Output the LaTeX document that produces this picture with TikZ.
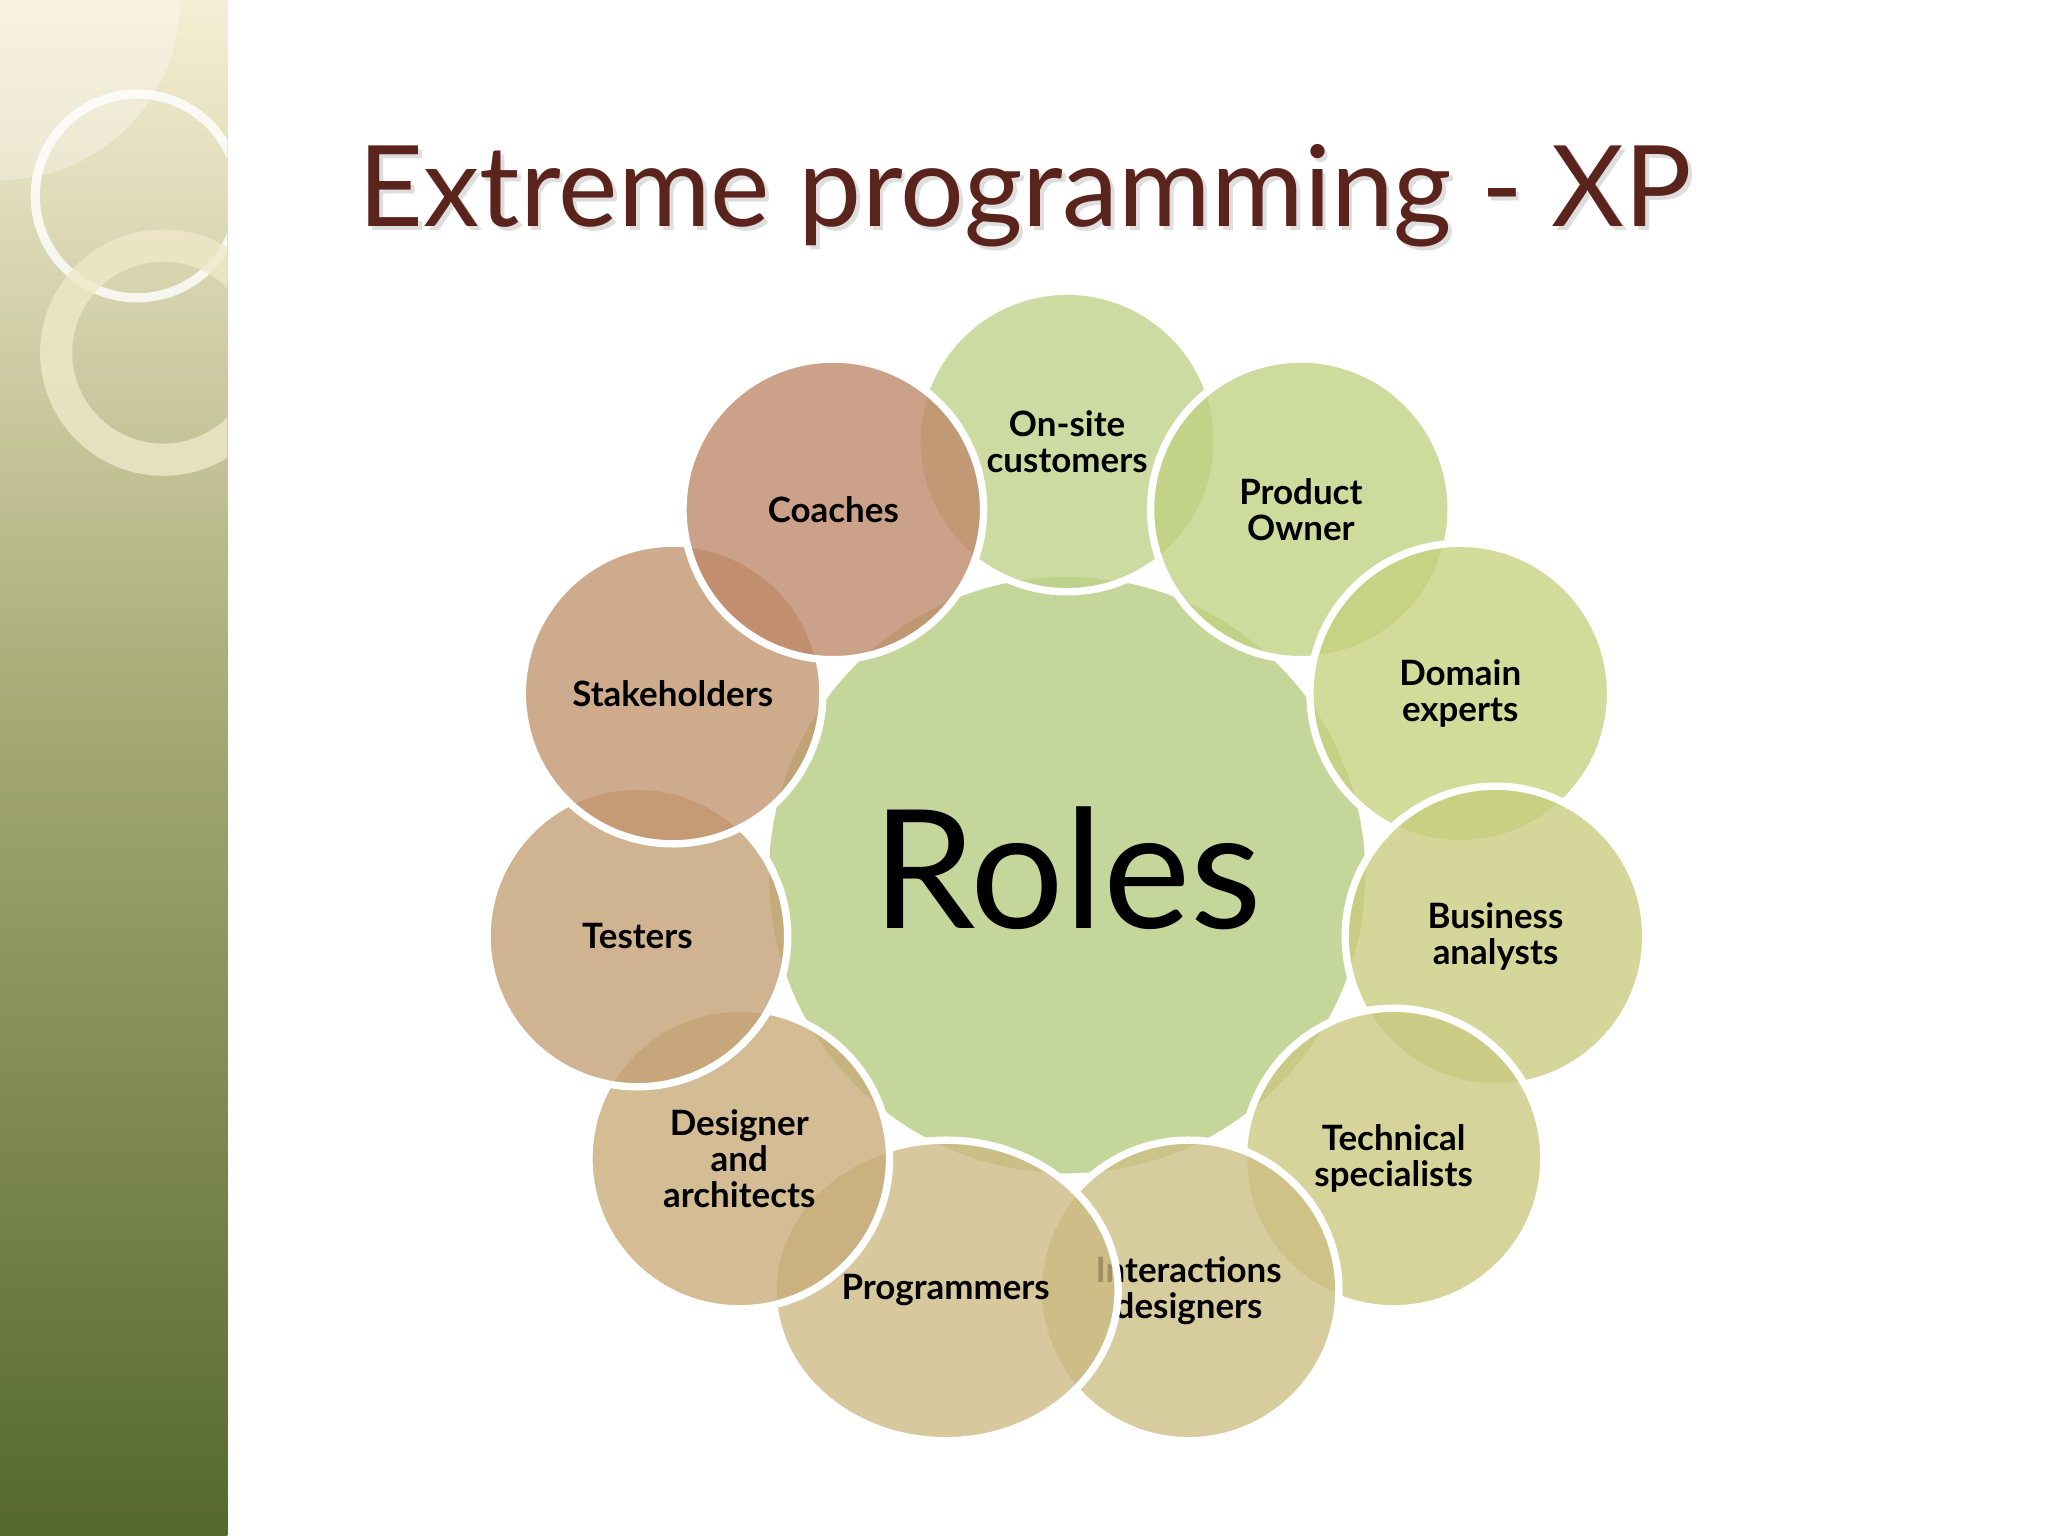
\documentclass[tikz,border=0pt]{standalone}
\usepackage{fontspec}
\setmainfont{Lato}
\usetikzlibrary{shapes.geometric}
\definecolor{sbtop}{RGB}{246,238,212}
\definecolor{sbmid}{RGB}{160,165,110}
\definecolor{sbbot}{RGB}{85,104,45}
\definecolor{ringc}{RGB}{240,232,200}
\definecolor{titlec}{RGB}{90,35,28}
\definecolor{cen}{RGB}{197,214,155}
\definecolor{ca}{RGB}{190,210,135}
\definecolor{cb}{RGB}{192,210,130}
\definecolor{cd}{RGB}{198,210,125}
\definecolor{ce}{RGB}{200,205,125}
\definecolor{cf}{RGB}{203,200,128}
\definecolor{cg}{RGB}{205,190,130}
\definecolor{ch}{RGB}{205,185,130}
\definecolor{ci}{RGB}{200,170,120}
\definecolor{cj}{RGB}{195,160,115}
\definecolor{ck}{RGB}{193,148,110}
\definecolor{cl}{RGB}{190,135,105}
\begin{document}
\begin{tikzpicture}[x=0.01cm,y=-0.01cm,
  role/.style={circle,minimum size=2.3cm,draw=white,line width=1.6pt,fill opacity=0.78,text opacity=1,align=center,font=\fontsize{7.6}{7.8}\selectfont\bfseries},
]
\useasboundingbox (0,0) rectangle (1568,1176);
\fill[white] (0,0) rectangle (1568,1176);
\shade[top color=sbtop,bottom color=sbbot,middle color=sbmid] (0,0) rectangle (174,1176);
\begin{scope}
\clip (0,0) rectangle (174,1176);
\fill[white,opacity=0.3] (0,0) circle (138);
\draw[color=white,line width=2pt,opacity=0.8] (105,150) circle (78);
\draw[color=ringc,line width=7pt,opacity=0.8] (125,270) circle (82);
\end{scope}
\node[text=black!25,opacity=0.5,font=\fontsize{24.5}{28}\selectfont] (shadow) at (788,153) {Extreme programming - XP};
\node[text=titlec,font=\fontsize{24.5}{28}\selectfont] (title) at (785,150) {Extreme programming - XP};
\node[circle,minimum size=4.62cm,fill=cen,draw=white,line width=1.6pt] (c) at (817,670) {};
\node[font=\fontsize{36}{40}\selectfont] (roles) at (817,665) {Roles};
\node[role,fill=ca] (a) at (817,338) {On-site\\customers};
\node[role,fill=cb] (b) at (996,390) {Product\\Owner};
\node[role,fill=cd] (d) at (1118,531) {Domain\\experts};
\node[role,fill=ce] (e) at (1145,717) {Business\\analysts};
\node[role,fill=cf] (f) at (1067,887) {Technical\\specialists};
\node[role,fill=cg] (g) at (910,988) {Interactions\\designers};
\node[role,fill=ch,ellipse,minimum width=2.64cm,minimum height=2.3cm] (h) at (724,988) {Programmers};
\node[role,fill=ci] (i) at (566,887) {Designer\\and\\architects};
\node[role,fill=cj] (j) at (488,717) {Testers};
\node[role,fill=ck] (k) at (515,531) {Stakeholders};
\node[role,fill=cl] (l) at (638,390) {Coaches};
\end{tikzpicture}
\end{document}
